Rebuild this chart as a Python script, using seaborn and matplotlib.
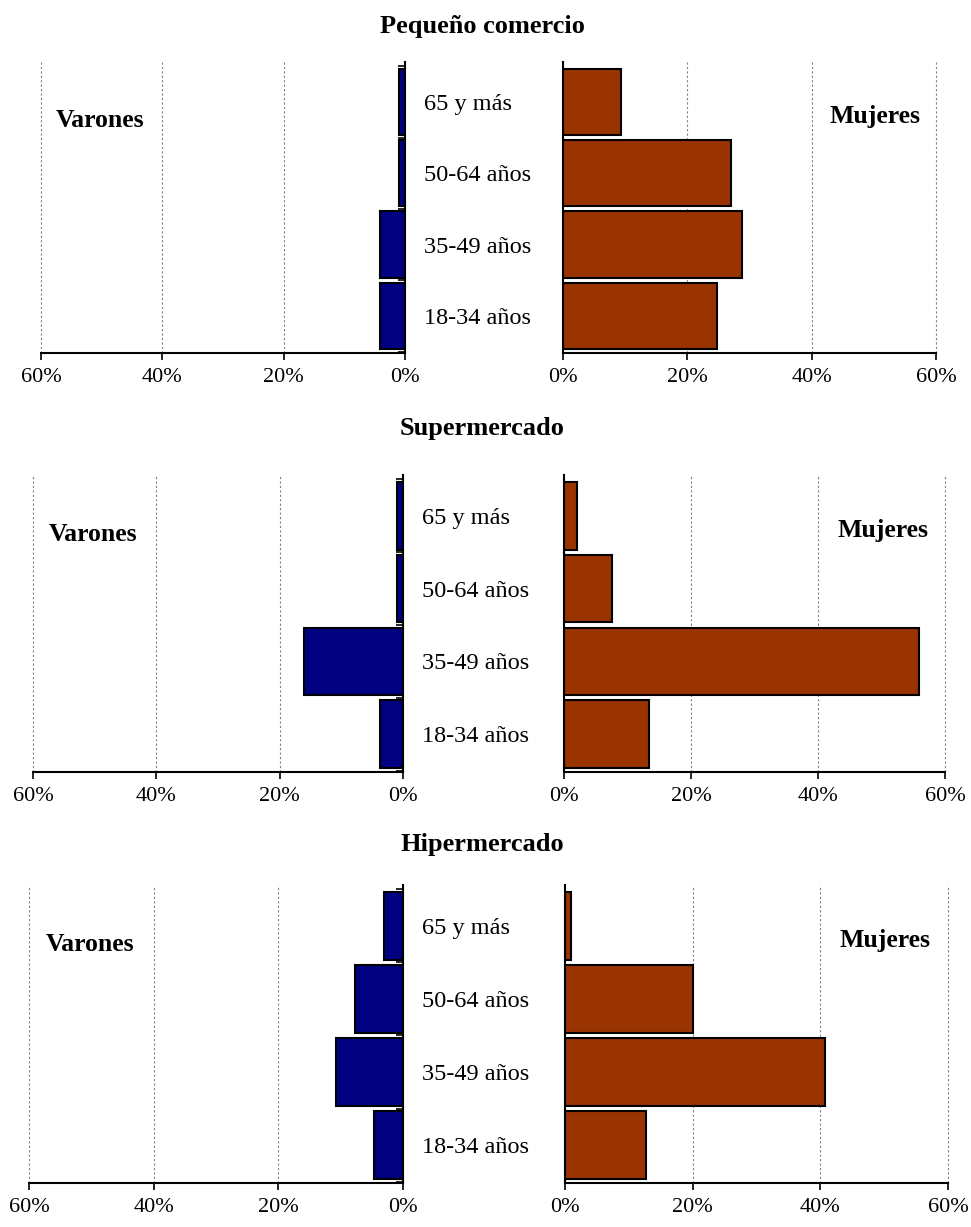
import matplotlib
matplotlib.use('Agg')
import matplotlib.pyplot as plt
import matplotlib.ticker as mtick
import seaborn as sns
import pandas as pd

sns.set_style('white')
plt.rcParams['font.family'] = ['Liberation Serif', 'DejaVu Serif']
plt.rcParams['text.color'] = 'black'
plt.rcParams['xtick.color'] = 'black'
plt.rcParams['ytick.color'] = 'black'

# Data (% of each group)
edades = ['65 y más', '50-64 años', '35-49 años', '18-34 años']
titulos = ['Pequeño comercio', 'Supermercado', 'Hipermercado']
varones_pequeno = [1.0, 1.0, 4.1, 4.1]
mujeres_pequeno = [9.4, 27.0, 28.8, 24.7]
varones_super = [1.0, 1.0, 16.0, 3.7]
mujeres_super = [2.0, 7.5, 55.9, 13.4]
varones_hiper = [3.0, 7.7, 10.8, 4.7]
mujeres_hiper = [0.9, 20.1, 40.7, 12.7]

varones = [varones_pequeno, varones_super, varones_hiper]
mujeres = [mujeres_pequeno, mujeres_super, mujeres_hiper]

# layout (pixel boxes from the reference, converted to figure fractions)
W, H = 971, 1227
left_boxes = [(41, 405, 62, 353), (33, 403, 475, 772), (29, 403, 885, 1183)]
right_boxes = [(563, 936, 62, 353), (564, 945, 475, 772), (565, 948, 885, 1183)]
title_y = [27, 428, 845]

fig = plt.figure(figsize=(W / 100, H / 100), dpi=100)

def make_ax(box):
    x0, x1, y0, y1 = box
    return fig.add_axes([x0 / W, 1 - y1 / H, (x1 - x0) / W, (y1 - y0) / H])

def style_ax(ax):
    ax.set_xlim(0, 60)
    ax.set_ylim(3.52, -0.56)
    ax.set_xticks([0, 20, 40, 60])
    ax.xaxis.set_major_formatter(mtick.PercentFormatter(decimals=0))
    ax.grid(axis='x', color='#808080', linestyle=(0, (2, 2)), linewidth=0.8)
    for line in ax.get_xgridlines():
        line.set_clip_on(False)
    ax.set_axisbelow(True)
    ax.set_xlabel('')
    ax.set_ylabel('')
    ax.tick_params(axis='x', bottom=True, direction='out', length=5, width=1.2,
                   labelsize=16, pad=6)
    for s in ax.spines.values():
        s.set_color('black')
        s.set_linewidth(1.5)
    ax.spines['top'].set_visible(False)

for i in range(3):
    dv = pd.DataFrame({'edad': edades, 'valor': varones[i]})
    dm = pd.DataFrame({'edad': edades, 'valor': mujeres[i]})

    axl = make_ax(left_boxes[i])
    sns.barplot(data=dv, x='valor', y='edad', order=edades, ax=axl, color='#000080',
                saturation=1, width=0.93, edgecolor='black', linewidth=1.5)
    style_ax(axl)
    axl.invert_xaxis()
    axl.spines['left'].set_visible(False)
    axl.yaxis.tick_right()
    axl.tick_params(axis='y', which='major', right=False, left=False, labelsize=17.5, pad=10)
    axl.set_yticks([-0.5, 0.5, 1.5, 2.5, 3.5], minor=True)
    axl.tick_params(axis='y', which='minor', right=True, left=False, direction='in',
                    length=5, width=1.2)
    for lab in axl.get_yticklabels():
        lab.set_horizontalalignment('left')
    axl.text(0.163, 0.80, 'Varones', transform=axl.transAxes, ha='center', va='center',
             fontsize=18.5, fontweight='bold')

    axr = make_ax(right_boxes[i])
    sns.barplot(data=dm, x='valor', y='edad', order=edades, ax=axr, color='#993300',
                saturation=1, width=0.93, edgecolor='black', linewidth=1.5)
    style_ax(axr)
    axr.spines['right'].set_visible(False)
    axr.set_yticks([])
    axr.text(0.836, 0.813, 'Mujeres', transform=axr.transAxes, ha='center', va='center',
             fontsize=18.5, fontweight='bold')

    fig.text(482 / W, 1 - title_y[i] / H, titulos[i], ha='center', va='center',
             fontsize=19, fontweight='bold')

fig.savefig('out.png', dpi=100, facecolor='white')
